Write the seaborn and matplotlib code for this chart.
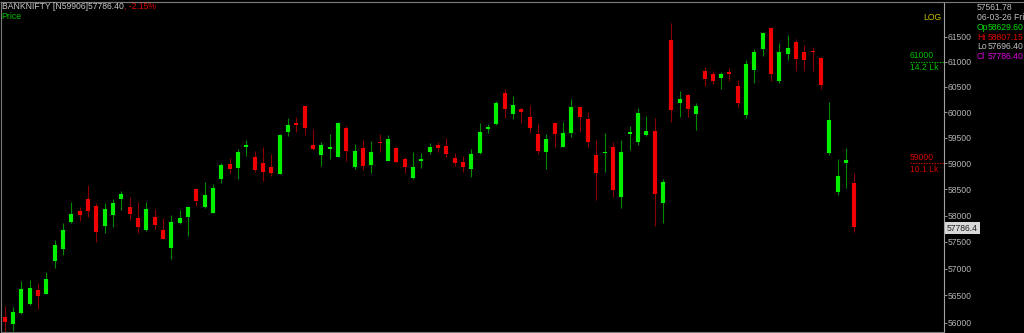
import numpy as np
import pandas as pd
import matplotlib
matplotlib.use("Agg")
import matplotlib.pyplot as plt
from matplotlib.ticker import FixedLocator, FixedFormatter, NullLocator
import seaborn as sns
import seaborn.objects as so

# ---------------- data ----------------
opens = [56110, 55975, 56170, 56340, 56600, 56535, 57140, 57365, 57870, 58080,
         58315, 58180, 57800, 58005, 58310, 58160, 57945, 57725, 57970, 57730,
         57390, 57850, 57965, 58510, 58155, 58055, 58705, 58990, 58910, 59310,
         59120, 59005, 58925, 58790, 59605, 59780, 60120, 59355, 59155, 59285,
         59130, 59680, 58925, 59290, 58965, 59415, 59050, 59305, 59085, 58710,
         59045, 59215, 59355, 59340, 59095, 59025, 58885, 59195, 59675, 59760,
         60370, 59960, 60055, 59900, 59575, 59220, 59785, 59325, 59585, 60100,
         59865, 59155, 59195, 59325, 58360, 59575, 59420, 59550, 59630, 58235,
         61435, 60170, 60330, 59965, 60820, 60760, 60680, 60800, 60515, 59940,
         60835, 61255, 61675, 60620, 61145, 61400, 61185, 61205, 61065, 59205,
         58455, 59010, 58629.60]
highs = [56305, 56295, 56770, 56790, 56725, 56930, 57535, 57850, 58265, 58155,
         58590, 58245, 58235, 58315, 58475, 58345, 58265, 58260, 58125, 57960,
         58005, 58105, 58185, 58520, 58635, 58600, 59010, 59110, 59270, 59455,
         59245, 59325, 59175, 59565, 59875, 59910, 60125, 59660, 59420, 59565,
         59810, 59725, 59375, 59455, 59440, 59565, 59550, 59340, 59130, 59225,
         59195, 59390, 59420, 59500, 59195, 59150, 59280, 59790, 59760, 60215,
         60450, 60315, 60075, 60140, 59760, 59565, 59810, 59810, 60250, 60120,
         60005, 59455, 59595, 59420, 59455, 59725, 60075, 59920, 59875, 58690,
         61770, 60415, 60355, 60170, 60890, 60815, 60800, 60865, 60635, 61030,
         61255, 61600, 61690, 61380, 61535, 61450, 61335, 61300, 61100, 60205,
         59080, 59290, 58807.15]
lows = [55835, 55850, 56160, 56325, 56245, 56530, 57015, 57255, 57860, 57900,
        57965, 57495, 57665, 57790, 58105, 57915, 57665, 57715, 57750, 57555,
        57175, 57845, 57610, 58180, 58150, 58050, 58620, 58820, 58700, 59150,
        58840, 58660, 58760, 58785, 59535, 59615, 59550, 59265, 58950, 59080,
        59125, 59050, 58890, 58870, 58820, 59225, 59045, 59000, 58810, 58705,
        58910, 59180, 59225, 59130, 58950, 58840, 58740, 59190, 59585, 59745,
        59890, 59865, 59780, 59585, 59180, 58885, 59325, 59320, 59520, 59615,
        59310, 58295, 58840, 58360, 58135, 59260, 59355, 59530, 57800, 57850,
        59810, 59910, 59895, 59650, 60520, 60550, 60455, 60615, 60095, 59875,
        60570, 61120, 60615, 60580, 61030, 60815, 60820, 60820, 60450, 59160,
        58390, 58520, 57696.40]
closes = [56010, 56190, 56620, 56635, 56490, 56805, 57435, 57720, 58035, 58005,
          58080, 57695, 58125, 58235, 58405, 58030, 57775, 58120, 57820, 57560,
          57885, 57955, 58155, 58275, 58395, 58525, 58965, 58890, 59225, 59360,
          58870, 58840, 58815, 59545, 59745, 59750, 59680, 59270, 59355, 59310,
          59785, 59240, 59235, 58955, 59220, 59390, 59465, 59030, 58935, 58930,
          59085, 59310, 59300, 59180, 59005, 58925, 59180, 59605, 59715, 60170,
          60055, 60130, 60000, 59695, 59245, 59465, 59575, 59585, 60105, 59895,
          59410, 58810, 59225, 58485, 59220, 59615, 59975, 59630, 58410, 58635,
          60040, 60250, 60065, 60125, 60660, 60620, 60760, 60745, 60185, 60960,
          61185, 61570, 60745, 61185, 61280, 61050, 61040, 61185, 60530, 59850,
          58760, 59065, 57786.40]

y_ticks = [56000, 56500, 57000, 57500, 58000, 58500, 59000, 59500, 60000, 60500, 61000, 61500]
y_tick_labels = [str(v) for v in y_ticks]

header_main = "BANKNIFTY [N59906]57786.40"
header_change = ", -2.15%"
info_rows = [("", "57561.78", "#c0c0c0", "#c0c0c0"),
             ("", "06-03-26 Fri", "#c0c0c0", "#c0c0c0"),
             ("Op", "58629.60", "#00dd00", "#00dd00"),
             ("Hi", "58807.15", "#e00000", "#e00000"),
             ("Lo", "57696.40", "#c0c0c0", "#c0c0c0"),
             ("Cl", "57786.40", "#dd00dd", "#dd00dd")]
levels = [(61000, "61000", "14.2 Lk", "#00c000"), (59000, "59000", "10.1 Lk", "#d00000")]
last_price_label = "57786.4"

# ---------------- style ----------------
sns.set_theme(style="dark")
plt.rcParams["font.family"] = ["Liberation Sans", "DejaVu Sans"]
plt.rcParams["lines.solid_capstyle"] = "butt"
FS = 6.2

W, H = 1024, 333
fig = plt.figure(figsize=(W / 100, H / 100), dpi=100, facecolor="black")
ax = fig.add_axes([1 / W, 1 / H, 943 / W, 330 / H])
ax.set_facecolor("black")

df = pd.DataFrame({"idx": np.arange(len(opens)), "open": opens, "high": highs,
                   "low": lows, "close": closes})
up = df["close"] >= df["open"]
df["body_lo"] = np.minimum(df["open"], df["close"])
df["body_hi"] = np.maximum(df["open"], df["close"])
df["wick_c"] = np.where(up, "#008a00", "#8a0000")
df["body_c"] = np.where(up, "#00f000", "#f00000")

(
    so.Plot(df, x="idx")
    .add(so.Range(linewidth=0.8), ymin="low", ymax="high", color="wick_c", legend=False)
    .add(so.Range(linewidth=3.0), ymin="body_lo", ymax="body_hi", color="body_c", legend=False)
    .scale(color=None, y="log")
    .on(ax)
    .plot()
)

ax.set_facecolor("black")
ax.grid(False)
ax.set_xlabel("")
ax.set_ylabel("")
ax.set_xlim(-0.45, 112.75)
ax.set_ylim(55828, 62203)
ax.xaxis.set_major_locator(NullLocator())
ax.xaxis.set_minor_locator(NullLocator())
ax.yaxis.set_major_locator(FixedLocator(y_ticks))
ax.yaxis.set_major_formatter(FixedFormatter(y_tick_labels))
ax.yaxis.set_minor_locator(NullLocator())
ax.yaxis.tick_right()
ax.tick_params(axis="y", which="major", direction="out", length=2.2, width=0.7,
               color="#909090", labelcolor="#b4b4b4", labelsize=FS, pad=0.4)
for s in ax.spines.values():
    s.set_visible(True)
    s.set_color("#7a7a7a")
    s.set_linewidth(0.8)
ax.spines["right"].set_color("#a0a0a0")

def fx(px):
    return px / W

def fy(py):
    return 1 - py / H

# header
t_main = fig.text(fx(1.5), fy(6.5), header_main, color="#c8c8c8", fontsize=FS,
                  va="center", ha="left")
fig.canvas.draw()
fig.text(1.0, 0.5, header_change, transform=matplotlib.transforms.offset_copy(
             matplotlib.transforms.BboxTransformTo(t_main.get_window_extent()), fig=fig,
             x=0.5, y=0, units="points"),
         color="#e00000", fontsize=FS, va="center", ha="left")
fig.text(fx(1.5), fy(16.5), "Price", color="#00c000", fontsize=FS, va="center", ha="left")
fig.text(fx(942), fy(17.3), "LOG", color="#c8c000", fontsize=FS, va="center", ha="right")

# info panel
for i, (lab, val, c1, c2) in enumerate(info_rows):
    yy = fy(7.3 + 9.9 * i)
    if lab:
        fig.text(fx(977), yy, lab, color=c1, fontsize=FS, va="center", ha="left")
        fig.text(fx(988), yy, val, color=c2, fontsize=FS, va="center", ha="left")
    else:
        fig.text(fx(977), yy, val, color=c2, fontsize=FS, va="center", ha="left")

# level markers
ytr = ax.get_yaxis_transform()
x0 = (910 - 1) / 943
for price, lab, vol, col in levels:
    ax.plot([x0, 1.0], [price, price], transform=ytr, color=col, linestyle=(0, (1.2, 1.2)),
            linewidth=0.8, clip_on=False)
    ax.annotate(lab, xy=(x0, price), xycoords=ytr, xytext=(0, 4.2), textcoords="offset points",
                color=col, fontsize=FS, ha="left", va="center")
    ax.annotate(vol, xy=(x0, price), xycoords=ytr, xytext=(0, -4.3), textcoords="offset points",
                color=col, fontsize=FS, ha="left", va="center")

# last price box
ax.annotate(last_price_label, xy=(1.0, closes[-1]), xycoords=ytr, xytext=(2.0, -1),
            textcoords="offset points", color="#202020", fontsize=FS, ha="left", va="center",
            bbox=dict(boxstyle="square,pad=0.2", fc="#d8d8d8", ec="none"), annotation_clip=False)

# top frame line over the whole width
fig.add_artist(plt.Line2D([0, 1], [fy(2), fy(2)], color="#7a7a7a", linewidth=0.8))

fig.savefig("out.png", dpi=100, facecolor="black")
